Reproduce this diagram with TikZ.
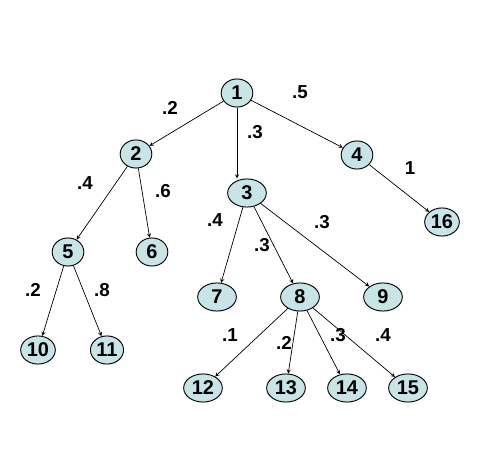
\documentclass[tikz,border=0pt]{standalone}
\usepackage{fontspec}
\setmainfont{Liberation Sans}
\usepackage{xcolor}
\usetikzlibrary{shapes,arrows,positioning}
\definecolor{nodefill}{RGB}{200,228,230}

\begin{document}
\begin{tikzpicture}[x=0.03cm,y=-0.03cm,
  st/.style={ellipse,draw,thick,fill=nodefill,inner sep=1pt,minimum width=27pt,minimum height=24pt,font=\fontsize{17}{17}\selectfont\bfseries},
  wst/.style={st,minimum width=33pt},
  pr/.style={font=\fontsize{16}{16}\selectfont\bfseries},
  arr/.style={-{stealth},semithick}]
\useasboundingbox (0,0) rectangle (491,449);
\node[st] (n1) at (237,93) {1};
\node[st] (n2) at (136,154) {2};
\node[wst] (n3) at (247,193) {3};
\node[st] (n4) at (357,155) {4};
\node[st] (n5) at (68,252) {5};
\node[st] (n6) at (152,252) {6};
\node[wst] (n7) at (217,297) {7};
\node[wst] (n8) at (300,297) {8};
\node[wst] (n9) at (383,297) {9};
\node[st] (n10) at (38,350) {10};
\node[st] (n11) at (107,350) {11};
\node[wst] (n12) at (203,388) {12};
\node[wst] (n13) at (286,388) {13};
\node[wst] (n14) at (347,388) {14};
\node[wst] (n15) at (408,388) {15};
\node[st] (n16) at (442,222) {16};
\draw[arr] (n1) -- (n2); \draw[arr] (n1) -- (n1 |- n3.north); \draw[arr] (n1) -- (n4);
\draw[arr] (n2) -- (n5); \draw[arr] (n2) -- (n6);
\draw[arr] (n3) -- (n7); \draw[arr] (n3) -- (n8); \draw[arr] (n3) -- (n9);
\draw[arr] (n4) -- (n16);
\draw[arr] (n5) -- (n10); \draw[arr] (n5) -- (n11);
\draw[arr] (n8) -- (n12); \draw[arr] (n8) -- (n13);
\draw[arr] (n8) -- (n14); \draw[arr] (n8) -- (n15);
\node[pr] (p12) at (170,108) {.2};
\node[pr] (p13) at (255,132) {.3};
\node[pr] (p14) at (300,92) {.5};
\node[pr] (p25) at (85,183) {.4};
\node[pr] (p26) at (163,191) {.6};
\node[pr] (p37) at (215,220) {.4};
\node[pr] (p38) at (262,245) {.3};
\node[pr] (p39) at (322,222) {.3};
\node[pr] (p416) at (410,168) {1};
\node[pr] (p510) at (33,290) {.2};
\node[pr] (p511) at (102,290) {.8};
\node[pr] (p812) at (230,335) {.1};
\node[pr] (p813) at (284,343) {.2};
\node[pr] (p814) at (338,335) {.3};
\node[pr] (p815) at (383,335) {.4};
\end{tikzpicture}
\end{document}
